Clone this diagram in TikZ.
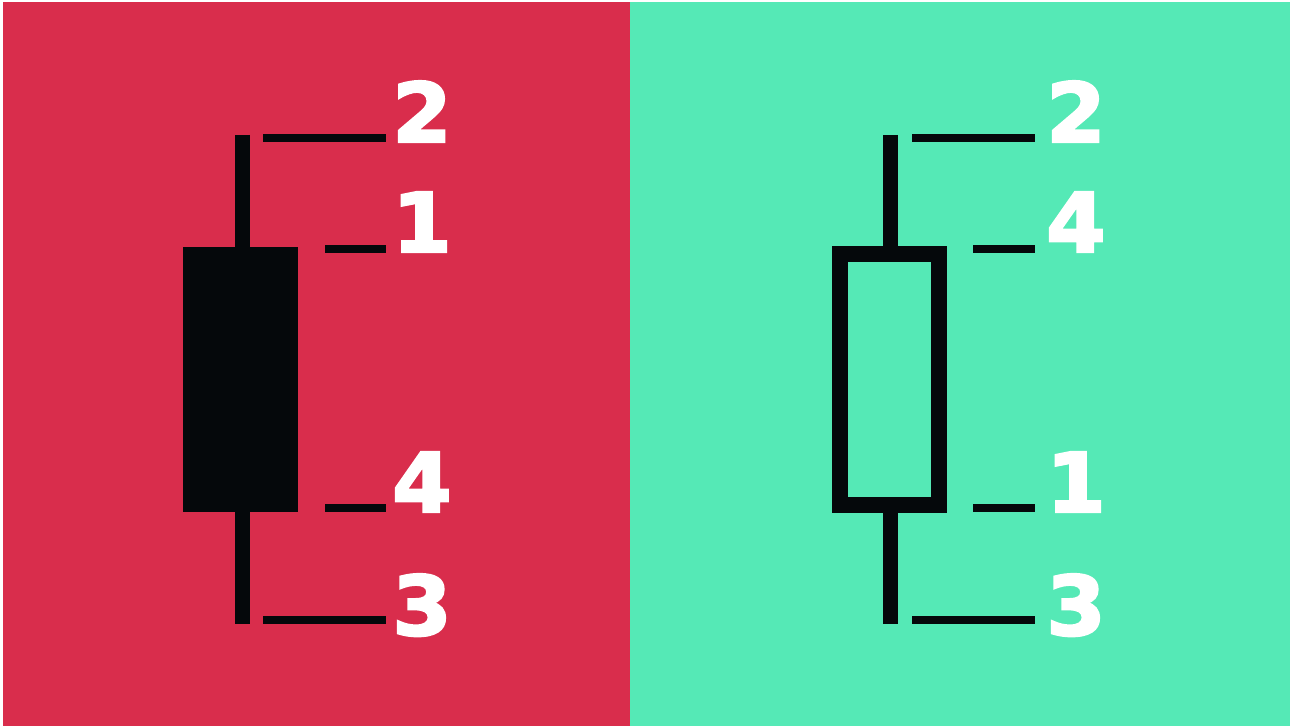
\documentclass[tikz,border=0pt]{standalone}
\usepackage{fontspec}
\newfontfamily\digitfont{DejaVu Sans Bold}[FakeBold=3,FakeStretch=1.04]
\definecolor{bearred}{HTML}{D92D4C}
\definecolor{bullgreen}{HTML}{55E9B6}
\definecolor{inkblack}{HTML}{05080B}
\tikzset{
  lbl/.style={text=white, font=\digitfont\fontsize{41}{41}\selectfont, inner sep=0pt, anchor=base},
  tick/.style={draw=inkblack, line width=4.4pt},
  wick/.style={draw=inkblack, line width=7.5pt},
}
\begin{document}
\begin{tikzpicture}[x=0.5pt,y=-0.5pt]
\useasboundingbox (0,0) rectangle (1298,726);
\fill[white] (0,0) rectangle (1298,726);
% panels
\fill[bearred] (3,2) rectangle (630,726);
\fill[bullgreen] (630,2) rectangle (1290,726);
% left (bearish) candle
\draw[wick] (242,135) -- (242,250);
\draw[wick] (242,509) -- (242,624);
\fill[inkblack] (183,247) rectangle (298,512);
\draw[tick] (263,138) -- (386,138);
\draw[tick] (325,249) -- (386,249);
\draw[tick] (325,508) -- (386,508);
\draw[tick] (263,620) -- (386,620);
\node[lbl] (l2) at (422,142) {2};
\node[lbl] (l1) at (422,252) {1};
\node[lbl] (l4) at (422,512) {4};
\node[lbl] (l3) at (422,635) {3};
% right (bullish) candle
\draw[wick] (890,135) -- (890,250);
\draw[wick] (890,509) -- (890,624);
\draw[draw=inkblack, line width=8pt] (840,254) rectangle (939,505);
\draw[tick] (912,138) -- (1035,138);
\draw[tick] (973,249) -- (1035,249);
\draw[tick] (973,508) -- (1035,508);
\draw[tick] (912,620) -- (1035,620);
\node[lbl] (r2) at (1076,142) {2};
\node[lbl] (r4) at (1076,252) {4};
\node[lbl] (r1) at (1076,512) {1};
\node[lbl] (r3) at (1076,635) {3};
\end{tikzpicture}
\end{document}
